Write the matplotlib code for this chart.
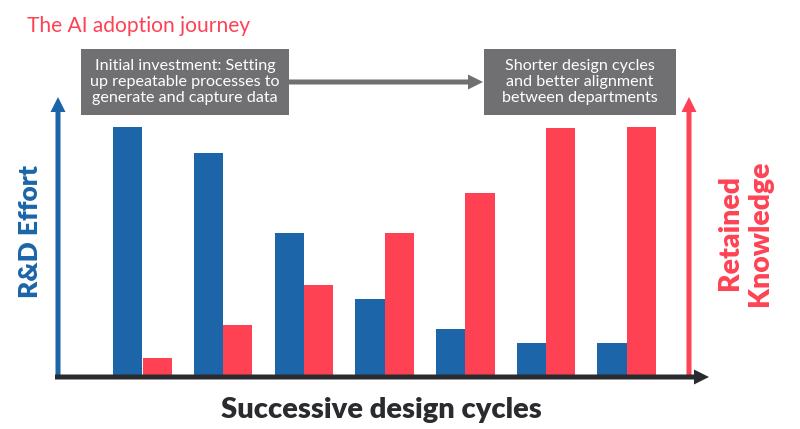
import matplotlib
matplotlib.use("Agg")
import numpy as np
import matplotlib.pyplot as plt
from matplotlib.patches import FancyArrowPatch, Rectangle

# Bar heights
cycles = [1, 2, 3, 4, 5, 6, 7]
rd_effort = [248, 222, 142, 76, 46, 32, 32]
retained_knowledge = [17, 50, 90, 142, 182, 247, 248]

title = "The AI adoption journey"
left_note = "Initial investment: Setting\nup repeatable processes to\ngenerate and capture data"
right_note = "Shorter design cycles\nand better alignment\nbetween departments"
x_label = "Successive design cycles"
left_label = "R&D Effort"
right_label = "Retained\nKnowledge"

BLUE = "#1b65a8"
RED = "#fe4254"
GREY = "#706f71"
DARK = "#2a2b2f"
W, H = 800, 429

plt.rcParams['font.family'] = ['Lato', 'DejaVu Sans']


# Convert picture pixels to figure fraction
def fx(x):
    return x / W


def fy(y):
    return 1 - y / H


def arrow(x0, y0, x1, y1, color, tail=5, head_w=15, head_l=15):
    style = "simple,head_length=%f,head_width=%f,tail_width=%f" % (head_l, head_w, tail)
    patch = FancyArrowPatch((fx(x0), fy(y0)), (fx(x1), fy(y1)), arrowstyle=style, mutation_scale=0.72,
                            color=color, lw=0, shrinkA=0, shrinkB=0, transform=fig.transFigure)
    fig.add_artist(patch)


def note_box(x0, y0, x1, y1, text):
    fig.add_artist(Rectangle((fx(x0), fy(y1)), (x1 - x0) / W, (y1 - y0) / H, facecolor=GREY, edgecolor="none",
                             transform=fig.transFigure))
    fig.text(fx((x0 + x1) / 2), fy((y0 + y1) / 2), text, color="white", fontsize=11.6, ha="center", va="center",
             linespacing=1.22)


fig = plt.figure(figsize=(W / 100, H / 100), dpi=100)
ax = fig.add_axes([0, 0, 1, 1])
ax.set_axis_off()

# One y unit is one pixel, baseline sits under the x axis arrow
ax.set_xlim((0 - 142.5) / 80.7 + 1, (W - 142.5) / 80.7 + 1)
ax.set_ylim(374.5 - H, 374.5)

x = np.array(cycles)
bar_w = 0.363
ax.bar(x - bar_w / 2, rd_effort, bar_w, color=BLUE)
ax.bar(x + bar_w / 2, retained_knowledge, bar_w, color=RED)

# Axis arrows
arrow(58, 376, 58, 97, BLUE)
arrow(689, 376, 689, 97, RED)
arrow(55, 377, 709, 377, DARK)

# Notes and the arrow between them
arrow(289, 82, 483, 82, GREY)
note_box(81, 49, 289, 115, left_note)
note_box(484, 49, 675.5, 115, right_note)

fig.text(fx(27), fy(25.5), title, color=RED, fontsize=15.1, ha="left", va="center")
fig.text(fx(381), fy(410), x_label, color=DARK, fontsize=21, fontweight="heavy", ha="center", va="center")
fig.text(fx(29.5), fy(232), left_label, color=BLUE, fontsize=19, fontweight="heavy", rotation=90,
         ha="center", va="center")
fig.text(fx(745), fy(233), right_label, color=RED, fontsize=20.4, fontweight="heavy", rotation=90,
         ha="center", va="center", multialignment="center", linespacing=1.2)

fig.savefig("out.png", dpi=100)
